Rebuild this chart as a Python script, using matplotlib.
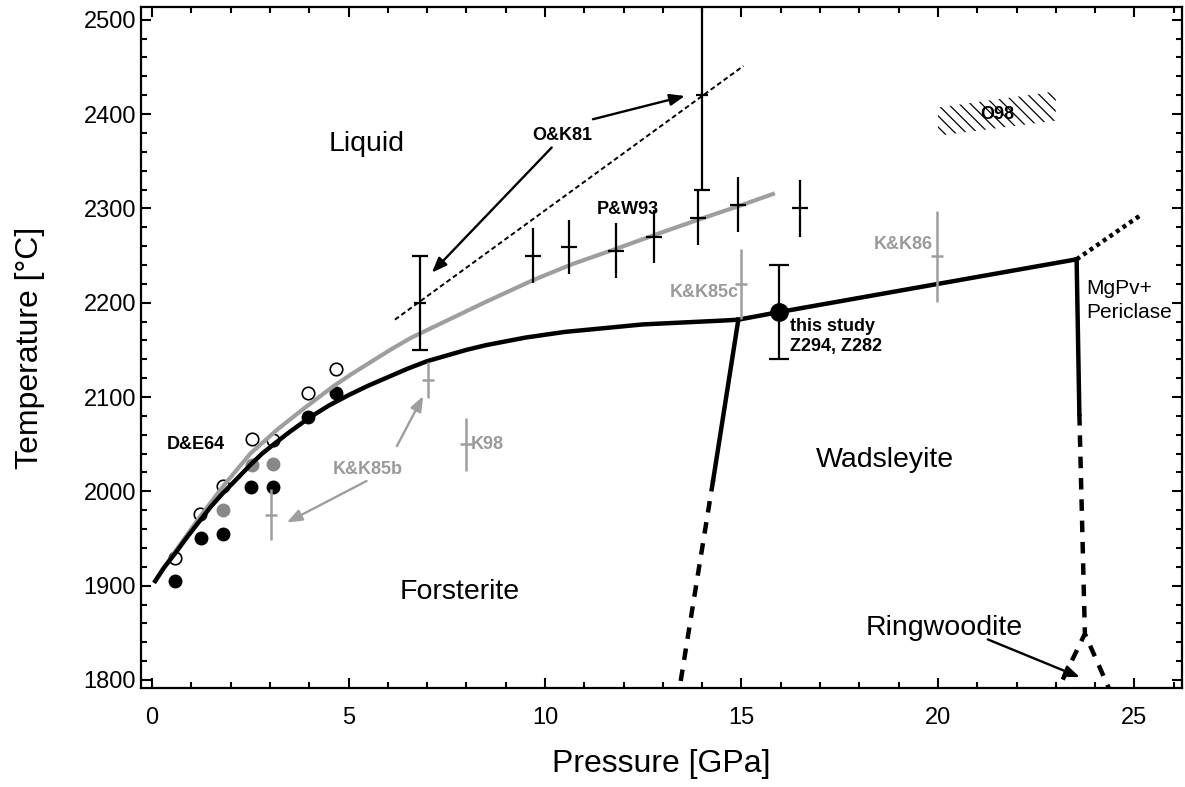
import matplotlib
matplotlib.use('Agg')
import matplotlib.pyplot as plt
from matplotlib.patches import Polygon
from matplotlib.ticker import MultipleLocator

plt.rcParams['font.family'] = ['Liberation Sans', 'DejaVu Sans']
plt.rcParams['hatch.linewidth'] = 0.9

# ---------------- data ----------------
# Forsterite melting curve (black)
fo_melt_P = [0.05, 0.3, 0.6, 0.9, 1.2, 1.5, 1.8, 2.2, 2.5, 2.8, 3.1, 3.5, 4.0, 4.5, 5.0, 5.5, 6.0, 6.5,
             7.0, 7.5, 8.0, 8.5, 9.0, 9.5, 10.0, 10.5, 11.0, 11.5, 12.0, 12.5, 13.0, 13.5, 14.0, 14.5, 14.92]
fo_melt_T = [1903, 1919, 1935, 1952, 1968, 1984, 1998, 2015, 2028, 2040, 2050, 2063, 2078, 2091, 2102,
             2112, 2121, 2130, 2138, 2144, 2150, 2155, 2159, 2163, 2166, 2169, 2171, 2173, 2175, 2177,
             2178, 2179, 2180, 2181, 2182]
# P&W93 fitted liquidus (gray)
pw_fit_P = [0.05, 0.6, 1.2, 1.8, 2.5, 3.2, 3.9, 4.6, 5.1, 5.6, 6.1, 6.6, 7.5, 8.5, 9.7, 10.7, 11.8,
            12.8, 13.9, 14.9, 15.85]
pw_fit_T = [1903, 1937, 1972, 2005, 2040, 2066, 2089, 2111, 2125, 2138, 2151, 2163, 2181, 2201, 2224,
            2241, 2257, 2272, 2288, 2302, 2316]
# Fo-Wd boundary
fowd_solid_P = [14.92, 14.28]
fowd_solid_T = [2182, 2012]
fowd_dash_P = [14.28, 13.38]
fowd_dash_T = [2012, 1780]
# Wadsleyite melting curve
wd_melt_P = [14.92, 15.95, 23.53]
wd_melt_T = [2182, 2190, 2246]
wd_ext_P = [23.53, 25.2]
wd_ext_T = [2246, 2294]
# Wd -> MgPv + Periclase
pv_solid_P = [23.53, 23.6]
pv_solid_T = [2246, 2082]
pv_dash_P = [23.6, 23.74]
pv_dash_T = [2082, 1850]
# Ringwoodite field
rw_P = [22.94, 23.74, 24.47]
rw_T = [1780, 1849, 1780]
# O&K81 line
ok_line_P = [6.18, 15.05]
ok_line_T = [2182, 2451]
ok_pts_P = [6.82, 14.0]
ok_pts_T = [2200, 2420]
ok_pts_err = [50, 100]
# P&W93 data
pw_P = [9.7, 10.62, 11.8, 12.77, 13.9, 14.9, 16.5]
pw_T = [2250, 2259, 2255, 2270, 2290, 2304, 2300]
pw_err = [29, 29, 29, 28, 29, 29, 30]
# gray data (K&K85b, K98, K&K85c, K&K86)
gr_P = [3.02, 7.03, 8.0, 14.98, 19.98]
gr_T = [1975, 2118, 2050, 2220, 2249]
gr_err = [27, 19, 28, 37, 48]
# D&E64 circles
de_open_P = [0.58, 1.22, 1.81, 2.54, 3.07, 3.98, 4.68]
de_open_T = [1929, 1976, 2006, 2055, 2054, 2104, 2130]
de_black_P = [0.58, 1.24, 1.81, 2.52, 3.07, 3.98, 4.68]
de_black_T = [1905, 1950, 1955, 2005, 2005, 2079, 2104]
de_gray_P = [1.81, 2.54, 3.07]
de_gray_T = [1980, 2028, 2029]
# this study
ts_P = [15.95]
ts_T = [2190]
ts_err = [50]
# O98 region
o98_P = [20.0, 20.0, 23.0, 23.0]
o98_T = [2377, 2407, 2424, 2393]

GRAY = '#9e9e9e'
GRAYTXT = '#9a9a9a'

fig = plt.figure(figsize=(11.85, 7.87), dpi=100)
ax = fig.add_axes([0.1194, 0.1258, 0.878, 0.8647])

# markers first
ax.plot(de_open_P, de_open_T, 'o', ms=9, mfc='white', mec='black', mew=1.2, ls='none', zorder=2)
ax.plot(de_black_P, de_black_T, 'o', ms=9, color='black', ls='none', zorder=2)
ax.plot(de_gray_P, de_gray_T, 'o', ms=9, color='#888888', ls='none', zorder=2)

# curves
ax.plot(pw_fit_P, pw_fit_T, color=GRAY, lw=3.0, solid_capstyle='butt', solid_joinstyle='round', zorder=3)
ax.plot(fo_melt_P, fo_melt_T, color='black', lw=3.2, solid_capstyle='butt', solid_joinstyle='round', zorder=4)
ax.plot(fowd_solid_P, fowd_solid_T, color='black', lw=3.2, zorder=4)
ax.plot(fowd_dash_P, fowd_dash_T, color='black', lw=3.2, ls=(0, (2.6, 2.2)), zorder=4)
ax.plot(wd_melt_P, wd_melt_T, color='black', lw=3.2, zorder=4)
ax.plot(wd_ext_P, wd_ext_T, color='black', lw=3.2, ls=(0, (0.9, 0.9)), zorder=4)
ax.plot(pv_solid_P, pv_solid_T, color='black', lw=3.2, zorder=4)
ax.plot(pv_dash_P, pv_dash_T, color='black', lw=3.2, ls=(0, (2.6, 2.2)), zorder=4)
ax.plot(rw_P, rw_T, color='black', lw=3.2, ls=(0, (2.6, 2.2)), zorder=4)
ax.plot(ok_line_P, ok_line_T, color='black', lw=1.4, ls=(0, (2.5, 1.6)), zorder=4)

# error bars
ax.errorbar(pw_P, pw_T, yerr=pw_err, fmt='none', ecolor='black', elinewidth=1.6, capsize=0, zorder=5)
ax.plot(pw_P, pw_T, '_', ms=11, mew=1.6, color='black', zorder=5)
ax.errorbar(ok_pts_P, ok_pts_T, yerr=ok_pts_err, fmt='none', ecolor='black', elinewidth=1.6,
            capsize=6, capthick=1.6, zorder=5)
ax.plot(ok_pts_P, ok_pts_T, '_', ms=8.5, mew=1.6, color='black', zorder=5)
ax.errorbar(gr_P, gr_T, yerr=gr_err, fmt='none', ecolor=GRAY, elinewidth=1.8, capsize=0, zorder=5)
ax.plot(gr_P, gr_T, '_', ms=8.5, mew=1.8, color=GRAY, zorder=5)
ax.errorbar(ts_P, ts_T, yerr=ts_err, fmt='o', ms=12.5, color='black', ecolor='black', elinewidth=1.6,
            capsize=7, capthick=1.6, zorder=6)

# O98 hatched region
ax.add_patch(Polygon(list(zip(o98_P, o98_T)), closed=True, fill=False, hatch='\\\\\\',
                     edgecolor='black', lw=0, zorder=2))

# arrows
def arrow(x0, y0, x1, y1, color):
    ax.annotate('', xy=(x1, y1), xytext=(x0, y0),
                arrowprops=dict(arrowstyle='-|>,head_length=0.9,head_width=0.35', lw=1.7,
                                color=color, shrinkA=0, shrinkB=0), zorder=6)

arrow(11.22, 2394.5, 13.56, 2419.2, 'black')
arrow(10.17, 2364.5, 7.12, 2231.9, 'black')
arrow(6.23, 2048, 6.9, 2101, GRAY)
arrow(5.46, 2011, 3.43, 1967, GRAY)
arrow(21.27, 1843, 23.61, 1803, 'black')

# text labels
bold = dict(fontsize=13, fontweight='bold')
ax.text(10.43, 2373, 'O&K81', ha='center', va='baseline', color='black', **bold)
ax.text(12.1, 2294, 'P&W93', ha='center', va='baseline', color='black', **bold)
ax.text(14.92, 2206.5, 'K&K85c', ha='right', va='baseline', color=GRAYTXT, **bold)
ax.text(19.88, 2257.4, 'K&K86', ha='right', va='baseline', color=GRAYTXT, **bold)
ax.text(16.23, 2170, 'this study', ha='left', va='baseline', color='black', **bold)
ax.text(16.23, 2148.8, 'Z294, Z282', ha='left', va='baseline', color='black', **bold)
ax.text(1.1, 2044.6, 'D&E64', ha='center', va='baseline', color='black', **bold)
ax.text(5.48, 2018, 'K&K85b', ha='center', va='baseline', color=GRAYTXT, **bold)
ax.text(8.12, 2045, 'K98', ha='left', va='baseline', color=GRAYTXT, **bold)
ax.text(21.51, 2394.5, 'O98', ha='center', va='baseline', color='black', **bold)
ax.text(23.78, 2208.9, 'MgPv+', ha='left', va='baseline', fontsize=15)
ax.text(23.78, 2184.2, 'Periclase', ha='left', va='baseline', fontsize=15)

big = dict(fontsize=20.5, ha='center', va='baseline')
ax.text(5.45, 2361, 'Liquid', **big)
ax.text(7.84, 1885.5, 'Forsterite', **big)
ax.text(18.65, 2025.5, 'Wadsleyite', **big)
ax.text(20.17, 1847.3, 'Ringwoodite', **big)

# axes styling
ax.set_xlim(-0.27, 26.21)
ax.set_ylim(1791.5, 2513)
ax.xaxis.set_major_locator(MultipleLocator(5))
ax.xaxis.set_minor_locator(MultipleLocator(1))
ax.yaxis.set_major_locator(MultipleLocator(100))
ax.yaxis.set_minor_locator(MultipleLocator(20))
ax.tick_params(which='both', direction='in', top=True, right=True, width=1.5, labelsize=17)
ax.tick_params(which='major', length=7)
ax.tick_params(which='minor', length=4)
ax.tick_params(axis='y', pad=4)
ax.tick_params(axis='x', pad=14)
for s in ax.spines.values():
    s.set_linewidth(1.6)

ax.set_xlabel('Pressure [GPa]', fontsize=23)
ax.set_ylabel('Temperature [°C]', fontsize=23)
ax.xaxis.set_label_coords(0.5, -0.089)
ax.yaxis.set_label_coords(-0.093, 0.5)

fig.savefig('out.png', dpi=100)
